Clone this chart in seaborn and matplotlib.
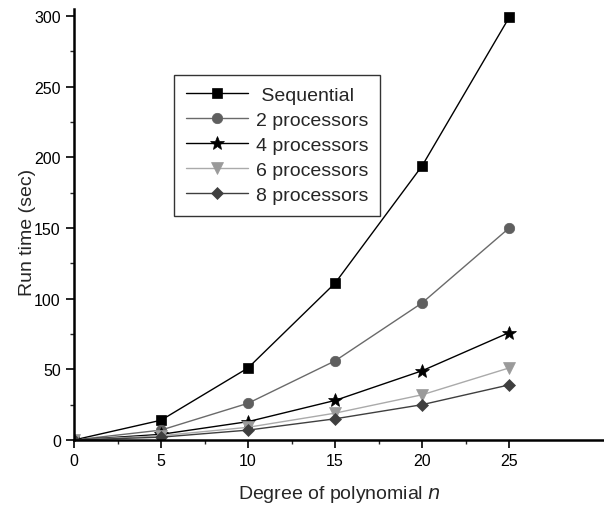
import matplotlib
matplotlib.use("Agg")
import matplotlib.pyplot as plt
import seaborn as sns
import pandas as pd
from matplotlib.ticker import MultipleLocator

degree = [0, 5, 10, 15, 20, 25]
sequential = [0, 14, 51, 111, 194, 299]
proc2 = [0, 7, 26, 56, 97, 150]
proc4 = [0, 4, 13, 28, 49, 76]
proc6 = [0, 3, 9, 19, 32, 51]
proc8 = [0, 2, 7, 15, 25, 39]
labels = [" Sequential", "2 processors", "4 processors", "6 processors", "8 processors"]

series = [sequential, proc2, proc4, proc6, proc8]
rows = []
for lab, vals in zip(labels, series):
    for x, y in zip(degree, vals):
        rows.append({"n": x, "t": y, "series": lab})
df = pd.DataFrame(rows)

sns.set_style("ticks")
plt.rcParams['font.family'] = ['Liberation Sans', 'DejaVu Sans']

fig = plt.figure(figsize=(6.04, 5.10), dpi=100)
ax = fig.add_axes([74/604, 1 - 441/510, 530/604, 431/510])

styles = {
    " Sequential": ("#000000", "#000000", "s", 6.5),
    "2 processors": ("#5f5f5f", "#6a6a6a", "o", 7.5),
    "4 processors": ("#000000", "#000000", "*", 10),
    "6 processors": ("#9a9a9a", "#aaaaaa", "v", 8.5),
    "8 processors": ("#3f3f3f", "#3f3f3f", "D", 6.5),
}
for lab in labels:
    mc, lc, m, ms = styles[lab]
    sub = df[df["series"] == lab]
    sns.lineplot(data=sub, x="n", y="t", ax=ax, color=lc, marker=m, markersize=ms,
                 markerfacecolor=mc, markeredgecolor=mc, markeredgewidth=0.5,
                 linewidth=1.0, label=lab)

ax.set_xlim(0, 30.45)
ax.set_ylim(0, 305)
ax.set_xticks([0, 5, 10, 15, 20, 25])
ax.set_xticks([2.5, 7.5, 12.5, 17.5, 22.5], minor=True)
ax.yaxis.set_major_locator(MultipleLocator(50))
ax.yaxis.set_minor_locator(MultipleLocator(25))
ax.tick_params(axis='both', which='major', direction='out', length=6, width=1.2, labelsize=11.5, colors='black')
ax.tick_params(axis='both', which='minor', direction='out', length=3, width=1.0)
for s in ["top", "right"]:
    ax.spines[s].set_visible(False)
for s in ["left", "bottom"]:
    ax.spines[s].set_linewidth(1.8)
    ax.spines[s].set_color('black')

ax.set_xlabel("Degree of polynomial $\\it{n}$", fontsize=14, labelpad=11)
ax.set_ylabel("Run time (sec)", fontsize=14, labelpad=6)
ax.yaxis.set_label_coords(-24/530 - 14/530, (441 - 232)/431)

leg = ax.legend(loc='upper left', bbox_to_anchor=(100/530, (441 - 76)/431), frameon=True,
                fontsize=14, handlelength=3.2, borderpad=0.6, labelspacing=0.38,
                handletextpad=0.4, borderaxespad=0, fancybox=False)
leg.get_frame().set_edgecolor('black')
leg.get_frame().set_linewidth(1.0)

fig.savefig("out.png", dpi=100)
